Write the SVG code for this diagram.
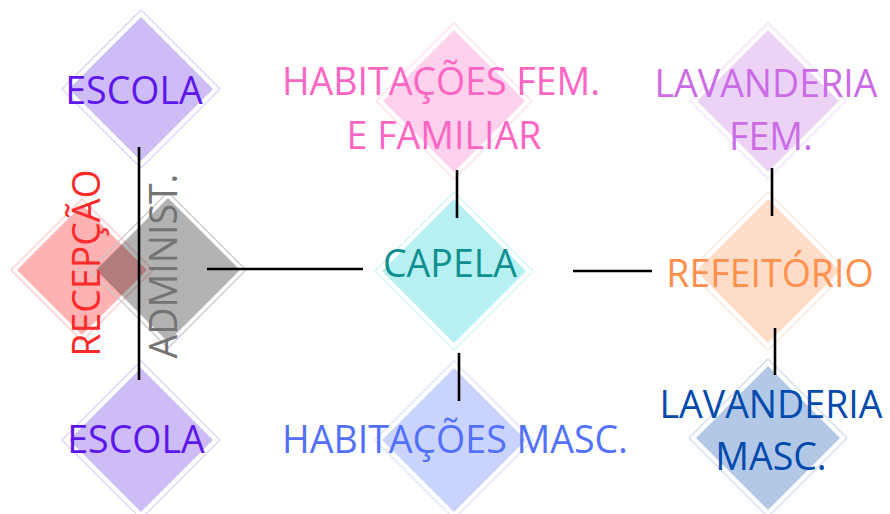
<svg xmlns="http://www.w3.org/2000/svg" width="890" height="514" viewBox="0 0 890 514">
<style>
text{font-family:"Open Sans","Liberation Sans",sans-serif;font-size:37.5px;text-anchor:middle}
.o{fill:none;stroke-width:1.3}
.c{stroke:#000;stroke-width:2.6;fill:none}
</style>
<rect width="890" height="514" fill="#fff"/>
<g id="recepcao">
<polygon points="82,205 147,270 82,335 17,270" fill="#ff0000" fill-opacity="0.3"/>
<polygon class="o" points="82,199 153,270 82,341 11,270" stroke="#ffb3b3" stroke-opacity="0.7"/>
</g>
<g id="administ">
<polygon points="168,198 240,270 168,342 96,270" fill="#000" fill-opacity="0.3"/>
<polygon class="o" points="168,192 246,270 168,348 90,270" stroke="#c8c8c8"/>
</g>
<g id="escola-top">
<polygon points="141,17 213,89 141,161 69,89" fill="#cdbcf6"/>
<polygon class="o" points="141,10 220,89 141,168 62,89" stroke="#dcd3f9"/>
<text x="134" y="104" fill="#5e17eb">ESCOLA</text>
</g>
<g id="escola-bottom">
<polygon points="141,368 213,440 141,512 69,440" fill="#cdbcf6"/>
<polygon class="o" points="141,361 220,440 141,519 62,440" stroke="#dcd3f9"/>
<text x="136" y="453" fill="#5e17eb">ESCOLA</text>
</g>
<g id="hab-fem">
<polygon points="454,30 525,101 454,172 383,101" fill="#ffd1ec"/>
<polygon class="o" points="454,23 532,101 454,179 376,101" stroke="#ffdff0"/>
<text x="441" y="95" fill="#ff66c4">HABITAÇÕES FEM.</text>
<text x="444" y="149" fill="#ff66c4">E FAMILIAR</text>
</g>
<g id="lav-fem">
<polygon points="768,30 839,101 768,172 697,101" fill="#ecd3f6"/>
<polygon class="o" points="768,23 846,101 768,179 690,101" stroke="#f0e0f8"/>
<text x="766" y="97" fill="#cb6ce6">LAVANDERIA</text>
<text x="771" y="150" fill="#cb6ce6">FEM.</text>
</g>
<g id="capela">
<polygon points="454,199 526,271 454,343 382,271" fill="#b7f0f2"/>
<polygon class="o" points="454,192 533,271 454,350 375,271" stroke="#d2f6f8"/>
<text x="450" y="277" fill="#0e9090">CAPELA</text>
</g>
<g id="refeitorio">
<polygon points="768,199 840,271 768,343 696,271" fill="#ffdcc7"/>
<polygon class="o" points="768,192 847,271 768,350 689,271" stroke="#ffe6da"/>
<text x="770" y="287" fill="#ff914d">REFEITÓRIO</text>
</g>
<g id="hab-masc">
<polygon points="454,368 526,440 454,512 382,440" fill="#cbd4fe"/>
<polygon class="o" points="454,361 533,440 454,519 375,440" stroke="#dde3fe"/>
<text x="455" y="453" fill="#5271ff">HABITAÇÕES MASC.</text>
</g>
<g id="lav-masc">
<polygon points="768,366 840,438 768,510 696,438" fill="#b3c8e6"/>
<polygon class="o" points="768,359 847,438 768,517 689,438" stroke="#cfdcef"/>
<text x="771" y="418" fill="#004aad">LAVANDERIA</text>
<text x="771" y="470" fill="#004aad">MASC.</text>
</g>
<g id="vtext">
<text transform="translate(100,263) rotate(-90)" fill="#ff2a2a">RECEPÇÃO</text>
<text transform="translate(177,266) rotate(-90)" fill="#737373">ADMINIST.</text>
</g>
<g id="connectors">
<line class="c" x1="139" y1="147" x2="139" y2="380"/>
<line class="c" x1="207" y1="269" x2="363" y2="269"/>
<line class="c" x1="457" y1="170" x2="457" y2="218"/>
<line class="c" x1="459" y1="353" x2="459" y2="401"/>
<line class="c" x1="573" y1="271" x2="652" y2="271"/>
<line class="c" x1="772" y1="168" x2="772" y2="216"/>
<line class="c" x1="775" y1="328" x2="775" y2="375"/>
</g>
</svg>
